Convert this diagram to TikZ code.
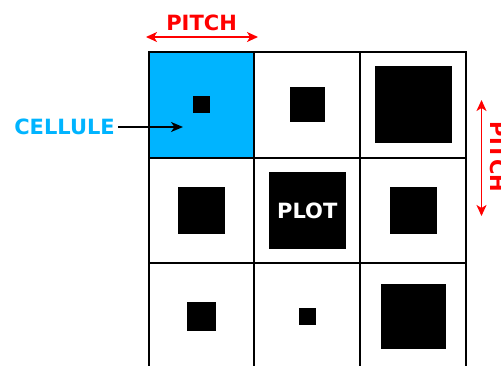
\documentclass[tikz,border=0pt]{standalone}
\usepackage{fontspec}
\setmainfont{DejaVu Sans}
\usetikzlibrary{arrows.meta}
\definecolor{cellblue}{RGB}{0,180,255}
\definecolor{pitchred}{RGB}{255,0,0}
\tikzset{
  cellbox/.style={minimum size=105.7pt, inner sep=0pt, outer sep=0pt},
  gridline/.style={draw=black, line width=2pt},
  plotsq/.style={fill=black, minimum size=#1, inner sep=0pt, outer sep=0pt},
  lbl/.style={font=\bfseries\fontsize{21}{24}\selectfont, inner sep=0pt},
  pitcharrow/.style={draw=pitchred, line width=1.6pt, {Stealth[length=11pt,width=10pt,inset=3pt]}-{Stealth[length=11pt,width=10pt,inset=3pt]}},
  cellarrow/.style={draw=black, line width=1.6pt, -{Stealth[length=12pt,width=10pt,inset=3.5pt]}}
}
\begin{document}
\begin{tikzpicture}[x=1pt,y=-1pt]
\useasboundingbox (0,0) rectangle (501,365);
% grid cells
\node[cellbox, fill=cellblue] (c00) at (201.6,104.7) {};
\node[cellbox] (c01) at (307.3,104.7) {};
\node[cellbox] (c02) at (413.0,104.7) {};
\node[cellbox] (c10) at (201.6,210.4) {};
\node[cellbox] (c11) at (307.3,210.4) {};
\node[cellbox] (c12) at (413.0,210.4) {};
\node[cellbox] (c20) at (201.6,316.1) {};
\node[cellbox] (c21) at (307.3,316.1) {};
\node[cellbox] (c22) at (413.0,316.1) {};
% plots
\node[plotsq=16.5pt] (p00) at (c00.center) {};
\node[plotsq=35pt] (p01) at (c01.center) {};
\node[plotsq=77pt] (p02) at (c02.center) {};
\node[plotsq=47pt] (p10) at (c10.center) {};
\node[plotsq=77pt, text=white, lbl] (p11) at (c11.center) {PLOT};
\node[plotsq=47pt] (p12) at (c12.center) {};
\node[plotsq=29pt] (p20) at (c20.center) {};
\node[plotsq=17pt] (p21) at (c21.center) {};
\node[plotsq=65pt] (p22) at (c22.center) {};
% grid lines
\draw[gridline] (c00.north west) rectangle (c22.south east);
\draw[gridline] (c00.north east) -- (c20.south east);
\draw[gridline] (c01.north east) -- (c21.south east);
\draw[gridline] (c00.south west) -- (c02.south east);
\draw[gridline] (c10.south west) -- (c12.south east);
% top pitch
\node[lbl, text=pitchred] (pitchtop) at (201.6,22.5) {PITCH};
\coordinate (ptl) at (146,37);
\coordinate (ptr) at (258,37);
\draw[pitcharrow] (ptl) -- (ptr);
% right pitch
\node[lbl, text=pitchred, rotate=-90] (pitchright) at (498,157) {PITCH};
\coordinate (prt) at (481.5,100);
\coordinate (prb) at (481.5,216);
\draw[pitcharrow] (prt) -- (prb);
% cellule
\node[lbl, text=cellblue, anchor=east] (cellule) at (115,127) {CELLULE};
\coordinate (cellstart) at (118,127);
\coordinate (cellpt) at (183,127);
\draw[cellarrow] (cellstart) -- (cellpt);
\end{tikzpicture}
\end{document}
